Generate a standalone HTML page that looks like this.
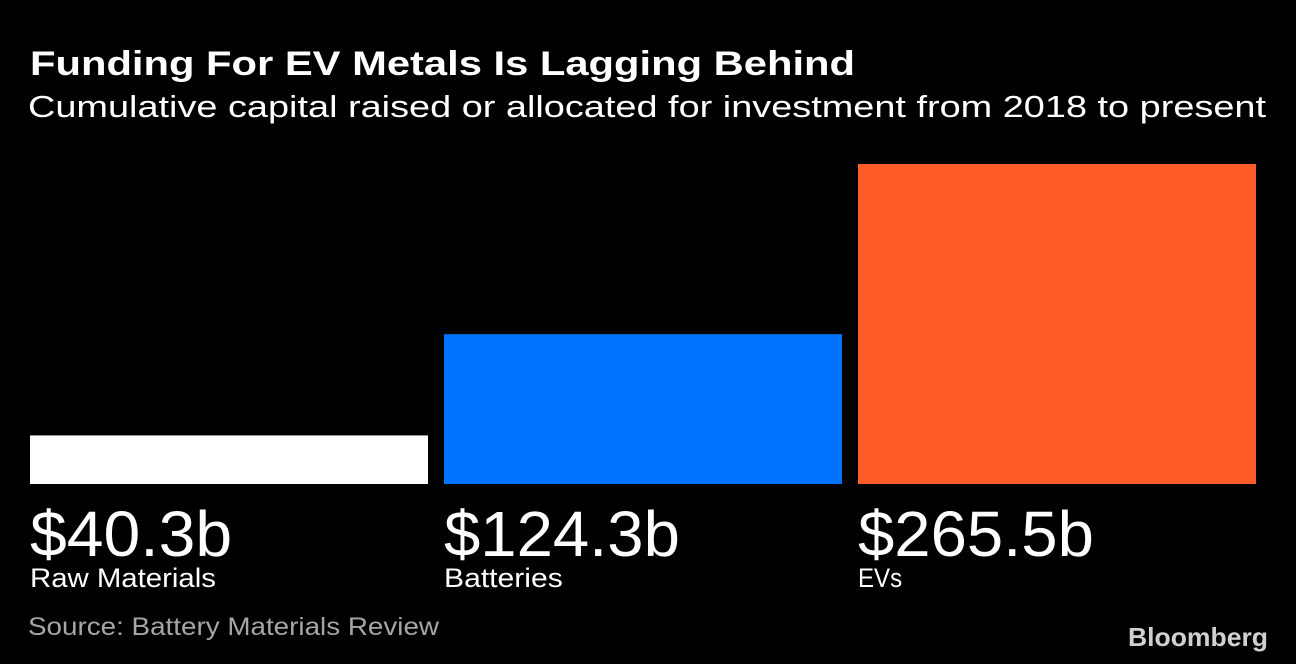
<!DOCTYPE html>
<html><head><meta charset="utf-8"><style>
html,body{margin:0;padding:0;background:#000;}
svg{display:block;font-family:"Liberation Sans",sans-serif;}
</style></head><body>
<svg id="chart" width="1296" height="664" viewBox="0 0 1296 664">
<rect width="1296" height="664" fill="#000"/>
<text x="30" y="75" font-size="34" font-weight="bold" fill="#fff" textLength="825" lengthAdjust="spacingAndGlyphs">Funding For EV Metals Is Lagging Behind</text>
<text x="28" y="117" font-size="31" fill="#fff" textLength="1238" lengthAdjust="spacingAndGlyphs">Cumulative capital raised or allocated for investment from 2018 to present</text>
<g id="bars"></g>
<text x="28" y="635" font-size="25" fill="#a6a6a6" textLength="411" lengthAdjust="spacingAndGlyphs">Source: Battery Materials Review</text>
<text x="1128" y="646" font-size="26" font-weight="bold" fill="#d0d0d0" textLength="140" lengthAdjust="spacingAndGlyphs">Bloomberg</text>
</svg>
<script>
const categories = ["Raw Materials", "Batteries", "EVs"];
const values = [40.3, 124.3, 265.5];
const valueLabels = ["$40.3b", "$124.3b", "$265.5b"];
const colors = ["#ffffff", "#0073ff", "#ff5c2a"];
const NS = "http://www.w3.org/2000/svg";
const baseY = 484, topY = 164, maxV = 265.5;
function y(v){ return baseY - v / maxV * (baseY - topY); }
function x(i){ return 30 + i * 414; }
const barW = 398;
const g = document.getElementById("bars");
categories.forEach((c, i) => {
  const r = document.createElementNS(NS, "rect");
  r.setAttribute("x", x(i)); r.setAttribute("y", y(values[i]));
  r.setAttribute("width", barW); r.setAttribute("height", baseY - y(values[i]));
  r.setAttribute("fill", colors[i]);
  
  
  g.appendChild(r);
  const v = document.createElementNS(NS, "text");
  v.setAttribute("x", x(i)); v.setAttribute("y", 556);
  v.setAttribute("font-size", "64"); v.setAttribute("fill", "#fff");
  v.setAttribute("textLength", String(valueLabels[i].length * 33.7));
  v.setAttribute("lengthAdjust", "spacingAndGlyphs");
  v.textContent = valueLabels[i];
  
  
  g.appendChild(v);
  const t = document.createElementNS(NS, "text");
  t.setAttribute("x", x(i)); t.setAttribute("y", 587);
  t.setAttribute("font-size", "27"); t.setAttribute("fill", "#fff");
  t.setAttribute("textLength", String(c.length * (i === 0 ? 14.3 : (i === 1 ? 13.2 : 14.7))));
  t.setAttribute("lengthAdjust", "spacingAndGlyphs");
  t.textContent = c;
  
  
  g.appendChild(t);
});
</script>
</body></html>
